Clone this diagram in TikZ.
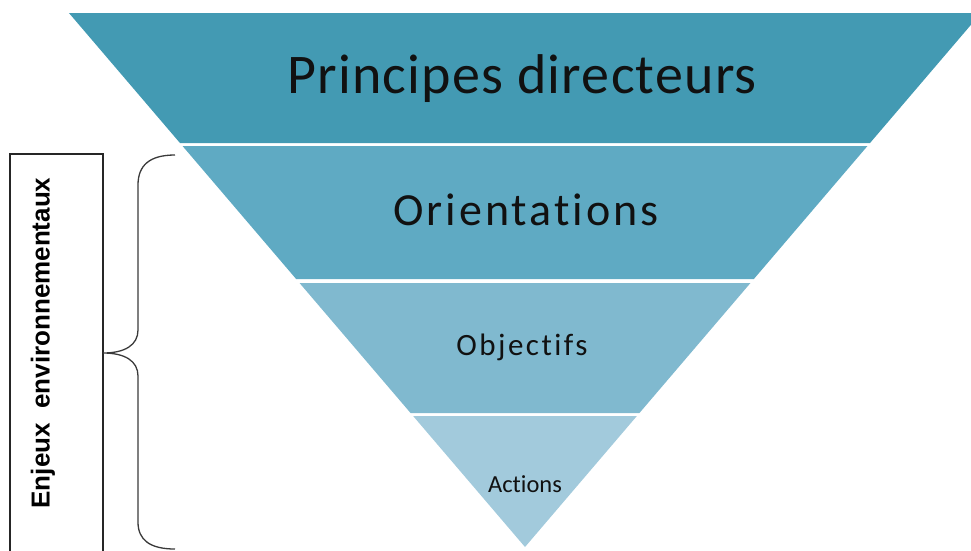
\documentclass[tikz,border=0pt]{standalone}
\usepackage{fontspec}
\setmainfont{Carlito}[Ligatures=NoCommon]
\newfontfamily\arialfont{Liberation Sans}
\definecolor{bandA}{HTML}{439AB3}
\definecolor{bandB}{HTML}{5FAAC3}
\definecolor{bandC}{HTML}{80B9CF}
\definecolor{bandD}{HTML}{A2CADC}
\definecolor{inkc}{HTML}{111111}
\definecolor{linec}{HTML}{3A3A3A}
\begin{document}
\begin{tikzpicture}[x=1pt,y=-1pt,
  bandtext/.style={anchor=base,inner sep=0pt,text=inkc},
  bracestyle/.style={draw=linec,line width=1.3pt},
  framestyle/.style={draw=black!85,line width=1.2pt}]
\clip (0,0) rectangle (971,550);
\useasboundingbox (0,0) rectangle (971,550);
% funnel bands: apex (525,547), half-width = 0.854*(547-y)
\def\k{0.854}
\foreach \ya/\yb/\col in {13/143/bandA,146/279/bandB,283/413/bandC,416/547/bandD}{
  \fill[\col] ({525-\k*(547-\ya)},\ya) -- ({525+\k*(547-\ya)},\ya)
     -- ({525+\k*(547-\yb)},\yb) -- ({525-\k*(547-\yb)},\yb) -- cycle;
}
\node[bandtext] (princ) at (522,93) {\fontsize{56}{60}\selectfont\addfontfeature{LetterSpace=2.2}Principes directeurs};
\node[bandtext] (orient) at (526,225) {\fontsize{46}{50}\selectfont\addfontfeature{LetterSpace=6.5}Orientations};
\node[bandtext] (obj) at (522,355) {\fontsize{31}{34}\selectfont\addfontfeature{LetterSpace=8}Objectifs};
\node[bandtext] (act) at (525,492) {\fontsize{24.5}{28}\selectfont Actions};
% frame with rotated label
\draw[framestyle] (103,600) -- (103,154) -- (10,154) -- (10,600);
\node[rotate=90,inner sep=0pt,text=black] (enjeux) at (43,343)
  {\arialfont\bfseries\fontsize{26}{28}\selectfont Enjeux\ \ environnementaux};
% brace
\coordinate (btop) at (175,155);
\coordinate (bmid) at (103,353);
\coordinate (bbot) at (175,549);
\draw[bracestyle] (btop) .. controls (150,155) and (138,165) .. (138,185)
  -- (138,330) .. controls (138,345) and (125,353) .. (bmid)
  .. controls (125,353) and (138,361) .. (138,376)
  -- (138,522) .. controls (138,540) and (150,549) .. (bbot);
\end{tikzpicture}
\end{document}
